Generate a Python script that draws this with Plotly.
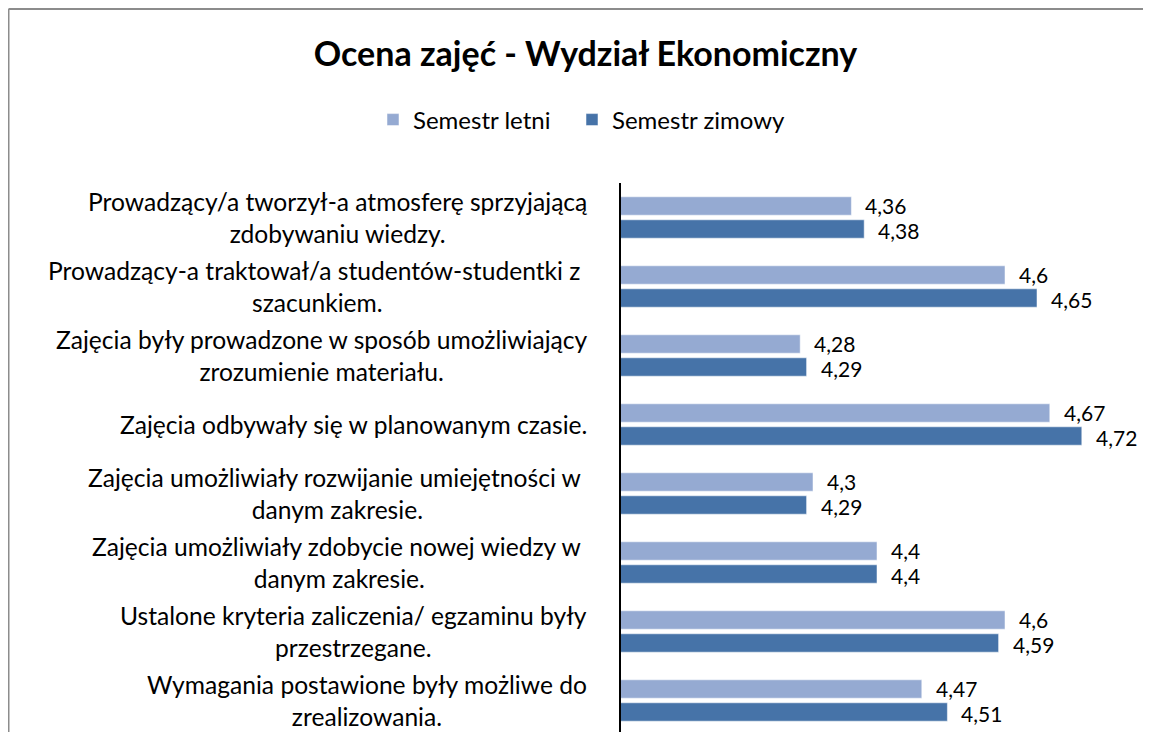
import plotly.graph_objects as go

categories = [
    "Prowadzący/a tworzył-a atmosferę sprzyjającą<br>zdobywaniu wiedzy.",
    "Prowadzący-a traktował/a studentów-studentki z <br>szacunkiem.",
    "Zajęcia były prowadzone w sposób umożliwiający<br>zrozumienie materiału.",
    "Zajęcia odbywały się w planowanym czasie.",
    "Zajęcia umożliwiały rozwijanie umiejętności w <br>danym zakresie.",
    "Zajęcia umożliwiały zdobycie nowej wiedzy w <br>danym zakresie.",
    "Ustalone kryteria zaliczenia/ egzaminu były<br>przestrzegane.",
    "Wymagania postawione były możliwe do<br>zrealizowania.",
]
semestr_letni = [4.36, 4.6, 4.28, 4.67, 4.3, 4.4, 4.6, 4.47]
semestr_zimowy = [4.38, 4.65, 4.29, 4.72, 4.29, 4.4, 4.59, 4.51]
series_names = ["Semestr letni", "Semestr zimowy"]
title_text = "Ocena zajęć - Wydział Ekonomiczny"

FONT = "Lato, 'Open Sans', sans-serif"
C_LIGHT = "#95AAD2"
C_DARK = "#4673A8"

# page body has an 8px margin; work in figure coordinates (reference - 8)
OFF = 8
W, H = 1151 - 2 * OFF, 724
L = 621 - OFF
R = W - (1133 - OFF)
T = 183 - OFF
B = 0
PW, PH = W - L - R, H - T - B
PITCH = 69.0
n = len(categories)
cut = ((735 - OFF) - H) / PITCH   # part of the last slot falling below the figure

ids = list(range(n))

fig = go.Figure()
for name, vals, col, lg in [(series_names[0], semestr_letni, C_LIGHT, "legend"),
                            (series_names[1], semestr_zimowy, C_DARK, "legend2")]:
    fig.add_trace(go.Bar(
        y=ids, x=vals, orientation="h", name=name, legend=lg,
        marker=dict(color=col, line=dict(color="rgba(255,255,255,0.5)", width=1)),
    ))

def fmt(v):
    return f"{v:g}".replace(".", ",")

annotations = []
for i in ids:
    for vals, ys in [(semestr_letni, 12.5), (semestr_zimowy, -12.5)]:
        annotations.append(dict(
            x=vals[i], y=i, xref="x", yref="y", text=fmt(vals[i]),
            showarrow=False, xanchor="left", yanchor="middle",
            xshift=12, yshift=ys, font=dict(family=FONT, size=21, color="#000000"),
        ))
    annotations.append(dict(
        x=0, y=i, xref="paper", yref="y", text=categories[i],
        showarrow=False, xanchor="right", yanchor="middle", align="center",
        xshift=-32, font=dict(family=FONT, size=24.6, color="#000000"),
    ))

leg_common = dict(orientation="h", xref="container", yref="container",
                  xanchor="left", yanchor="middle",
                  font=dict(family=FONT, size=24, color="#000000"),
                  itemwidth=30, bgcolor="rgba(0,0,0,0)")

fig.update_layout(
    width=W, height=H,
    margin=dict(l=L, r=R, t=T, b=B, pad=0),
    paper_bgcolor="white", plot_bgcolor="white",
    barmode="group", bargap=1/3, bargroupgap=0.2,
    title=dict(text="<b>" + title_text + "</b>", x=(585.5 - OFF) / W, xanchor="center",
               y=1 - (54 - OFF) / H, yanchor="middle",
               font=dict(family=FONT, size=34, color="#000000")),
    legend=dict(x=(373 - OFF) / W, y=1 - (120 - OFF) / H, **leg_common),
    legend2=dict(x=(572 - OFF) / W, y=1 - (120 - OFF) / H, **leg_common),
    xaxis=dict(range=[4, 4.8], showgrid=False, showticklabels=False, zeroline=False,
               showline=False, ticks=""),
    yaxis=dict(range=[n - 0.5 - cut, -0.5], showgrid=False, showticklabels=False,
               ticks="", showline=True, linecolor="#000000", linewidth=2,
               zeroline=False),
    annotations=annotations,
    shapes=[
        dict(type="line", xref="paper", yref="paper",
             x0=(0.5 - L) / PW, x1=(W - L) / PW,
             y0=1 + (T - 1) / PH, y1=1 + (T - 1) / PH,
             line=dict(color="#8C8C8C", width=2)),
        dict(type="line", xref="paper", yref="paper",
             x0=(0.5 - L) / PW, x1=(0.5 - L) / PW,
             y0=1 + (T - 1) / PH, y1=-B / PH,
             line=dict(color="#8C8C8C", width=2)),
    ],
    showlegend=True,
)
fig.update_traces(cliponaxis=False)
fig.write_html("out.html", config={"displayModeBar": False})
